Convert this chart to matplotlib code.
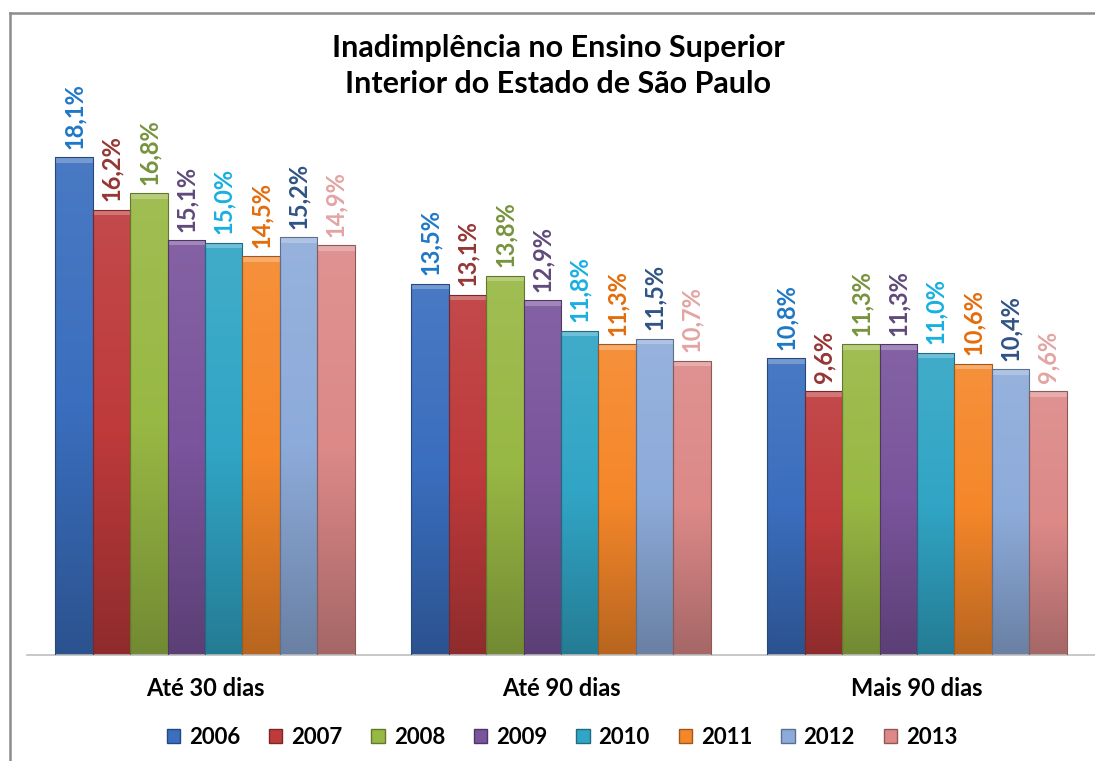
import numpy as np
import matplotlib
matplotlib.use("Agg")
import matplotlib.pyplot as plt
from matplotlib.colors import LinearSegmentedColormap, to_rgb
from matplotlib.patches import Patch, Rectangle
from matplotlib.lines import Line2D

plt.rcParams['font.family'] = ['Lato', 'DejaVu Sans']

# --- dados ---
categorias = ["Até 30 dias", "Até 90 dias", "Mais 90 dias"]
anos = ["2006", "2007", "2008", "2009", "2010", "2011", "2012", "2013"]
v2006 = [18.1, 13.5, 10.8]
v2007 = [16.2, 13.1, 9.6]
v2008 = [16.8, 13.8, 11.3]
v2009 = [15.1, 12.9, 11.3]
v2010 = [15.0, 11.8, 11.0]
v2011 = [14.5, 11.3, 10.6]
v2012 = [15.2, 11.5, 10.4]
v2013 = [14.9, 10.7, 9.6]
series = [v2006, v2007, v2008, v2009, v2010, v2011, v2012, v2013]

cores_barra = ["#3A6EBE", "#BE3A3B", "#98B844", "#7A549C", "#31A5C5",
               "#F5872A", "#8DABDA", "#DC8988"]
cores_rotulo = ["#1F78C6", "#943634", "#77933C", "#5F497A", "#17B0E0",
                "#E46C0A", "#2F5385", "#E3A4A3"]


def mistura(c, alvo, t):
    c = np.array(to_rgb(c))
    return tuple(c + (np.array(alvo) - c) * t)


def pinta_gradiente(ax, ret, cor):
    # degradê vertical: claro em cima, escuro embaixo
    cmap = LinearSegmentedColormap.from_list(
        "g", [mistura(cor, (0, 0, 0), 0.25), cor, mistura(cor, (1, 1, 1), 0.08)])
    x0, y0 = ret.get_x(), ret.get_y()
    w, h = ret.get_width(), ret.get_height()
    grad = np.linspace(0, 1, 256).reshape(-1, 1)
    im = ax.imshow(grad, extent=[x0, x0 + w, y0, y0 + h], origin="lower",
                   cmap=cmap, aspect="auto", zorder=2, interpolation="bilinear")
    im.set_clip_path(ret)
    # brilho no topo (efeito chanfro)
    bh = min(0.2, h * 0.1)
    ax.add_patch(Rectangle((x0, y0 + h - bh), w, bh, facecolor=mistura(cor, (1, 1, 1), 0.3),
                           edgecolor="none", zorder=3))
    ax.add_patch(Rectangle((x0, y0), w, h, facecolor="none",
                           edgecolor=mistura(cor, (0, 0, 0), 0.35), lw=0.8, zorder=4))


fig = plt.figure(figsize=(10.95, 7.61), dpi=100)
ax = fig.add_axes([27 / 1095, 1 - 655 / 761, 1068 / 1095, 565 / 761])

x = np.arange(len(categorias))
larg = 0.105
for i, (vals, ano) in enumerate(zip(series, anos)):
    pos = x + (i - 3.5) * larg
    barras = ax.bar(pos, vals, width=larg, color=cores_barra[i], zorder=1, label=ano)
    for b, v in zip(barras, vals):
        pinta_gradiente(ax, b, cores_barra[i])
        ax.annotate(f"{v:.1f}%".replace(".", ","),
                    (b.get_x() + b.get_width() / 2, v), xytext=(0, 6),
                    textcoords="offset points", rotation=90, ha="center", va="bottom",
                    fontsize=17, fontweight="bold", color=cores_rotulo[i])

ax.set_xlim(-0.5, 2.5)
ax.set_ylim(0, 20.55)
ax.set_xticks(x)
ax.set_xticklabels(categorias, fontsize=17, fontweight="bold")
ax.tick_params(axis="x", length=0, pad=16)
ax.set_yticks([])
for s in ["top", "right", "left"]:
    ax.spines[s].set_visible(False)
ax.spines["bottom"].set_color("#BFBFBF")
ax.spines["bottom"].set_linewidth(1.2)
ax.patch.set_alpha(0)

# moldura do gráfico
fig.add_artist(Line2D([9.5 / 1095, 9.5 / 1095], [0, 1 - 12.5 / 761], color="#8C8C8C", lw=1.8))
fig.add_artist(Line2D([9.5 / 1095, 1], [1 - 12.5 / 761, 1 - 12.5 / 761], color="#8C8C8C", lw=1.8))

fig.text(558 / 1095, 1 - 66 / 761, "Inadimplência no Ensino Superior\nInterior do Estado de São Paulo",
         ha="center", va="center", fontsize=22, fontweight="bold", linespacing=1.35)

alcas = [Patch(facecolor=c, edgecolor=mistura(c, (0, 0, 0), 0.35)) for c in cores_barra]
fig.legend(alcas, anos, loc="center", bbox_to_anchor=(562 / 1095, 1 - 737 / 761), ncol=8,
           frameon=False, handlelength=0.6, handleheight=0.6, handletextpad=0.4,
           columnspacing=1.3, prop={"size": 16, "weight": "bold"})

fig.savefig("out.png", dpi=100)
